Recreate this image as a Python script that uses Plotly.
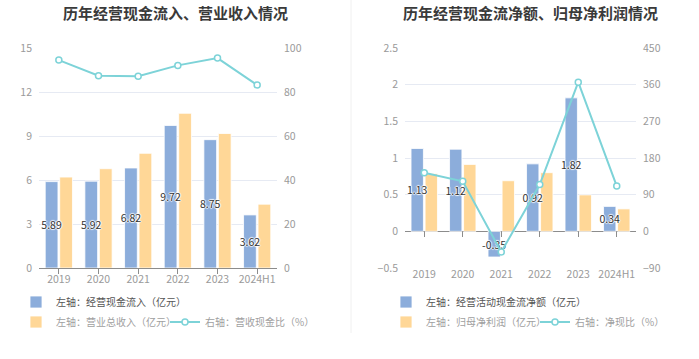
import plotly.graph_objects as go

# ---------------- data ----------------
years = ["2019", "2020", "2021", "2022", "2023", "2024H1"]
cash_inflow = [5.89, 5.92, 6.82, 9.72, 8.75, 3.62]          # 经营现金流入（亿元）
revenue = [6.20, 6.77, 7.82, 10.55, 9.17, 4.35]              # 营业总收入（亿元）
cash_rev_ratio = [94.5, 87.4, 87.2, 92.1, 95.4, 83.2]        # 营收现金比（%）

op_cf_net = [1.13, 1.12, -0.35, 0.92, 1.82, 0.34]            # 经营活动现金流净额（亿元）
net_profit = [0.786, 0.913, 0.69, 0.80, 0.497, 0.306]        # 归母净利润（亿元）
net_cash_ratio = [143.8, 122.7, -50.7, 115.0, 366.0, 111.0]  # 净现比（%）

left_title = "历年经营现金流入、营业收入情况"
right_title = "历年经营现金流净额、归母净利润情况"

# ---------------- style ----------------
W, H = 699, 359
FONT = "Noto Sans CJK SC"
BLUE = "#8CADDB"
YELLOW = "#FFD797"
TEAL = "#7DD3D8"
GRID = "#E6EAF3"
TICK = "#9A9A9A"
AXIS = "#8C8C8C"


def px(x):
    return x / W


def py(y):
    return 1 - y / H


ydom = [py(268), py(48)]
right_range = [-0.5, 2.5]
zero_pos = ydom[0] + (ydom[1] - ydom[0]) * (0 - right_range[0]) / (right_range[1] - right_range[0])

fig = go.Figure()

label_font = dict(family=FONT, size=10.5, color="#333",
                  shadow="1px 0 1px #fff, -1px 0 1px #fff, 0 1px 1px #fff, 0 -1px 1px #fff")
bar_line = dict(color="#ffffff", width=0.8)


def add_panel(xa, ya, ya2, vals_a, vals_b, ratio, names, legends):
    # blue bars
    fig.add_trace(go.Bar(x=years, y=vals_a, name=names[0], offsetgroup="a",
                         marker=dict(color=BLUE, line=bar_line),
                         xaxis=xa, yaxis=ya, legend=legends[0], hoverinfo="skip"))
    # yellow bars
    fig.add_trace(go.Bar(x=years, y=vals_b, name=names[1], offsetgroup="b",
                         marker=dict(color=YELLOW, line=bar_line),
                         xaxis=xa, yaxis=ya, legend=legends[1], hoverinfo="skip"))
    # value labels of the blue bars, drawn on top of both bar series
    fig.add_trace(go.Bar(x=years, y=vals_a, offsetgroup="a", showlegend=False,
                         marker=dict(color="rgba(0,0,0,0)", line=dict(width=0)),
                         text=[f"{v:.2f}" for v in vals_a], textposition="inside",
                         insidetextanchor="middle", textangle=0, constraintext="none",
                         textfont=label_font, cliponaxis=False,
                         xaxis=xa, yaxis=ya, hoverinfo="skip"))
    # ratio line
    fig.add_trace(go.Scatter(x=years, y=ratio, name=names[2], mode="lines+markers",
                             line=dict(color=TEAL, width=2),
                             marker=dict(symbol="circle", size=6, color="#ffffff",
                                         line=dict(color=TEAL, width=1.5)),
                             xaxis=xa, yaxis=ya2, legend=legends[1], hoverinfo="skip",
                             cliponaxis=False))


add_panel("x", "y", "y2", cash_inflow, revenue, cash_rev_ratio,
          ["左轴：经营现金流入（亿元）", "左轴：营业总收入（亿元）", "右轴：营收现金比（%）"],
          ["legend", "legend2"])
add_panel("x3", "y3", "y4", op_cf_net, net_profit, net_cash_ratio,
          ["左轴：经营活动现金流净额（亿元）", "左轴：归母净利润（亿元）", "右轴：净现比（%）"],
          ["legend3", "legend4"])

# empty trace so that the zero-line tick axis of the right panel gets drawn
fig.add_trace(go.Scatter(x=[], y=[], xaxis="x5", yaxis="y3", showlegend=False,
                         hoverinfo="skip"))

tickfont = dict(family=FONT, size=10.5, color=TICK)

common_x = dict(type="category", tickfont=tickfont, showgrid=False, zeroline=False,
                automargin=False, fixedrange=True, tickangle=0)
common_y = dict(tickfont=tickfont, automargin=False, fixedrange=True)

legend_common = dict(orientation="h", xanchor="left", yanchor="middle",
                     bgcolor="rgba(0,0,0,0)", borderwidth=0,
                     itemclick=False, itemdoubleclick=False,
                     tracegroupgap=0, itemwidth=30)
row2 = dict(entrywidth=104, entrywidthmode="pixels")

fig.update_layout(
    width=W, height=H,
    margin=dict(l=0, r=0, t=0, b=0, pad=0),
    paper_bgcolor="#ffffff", plot_bgcolor="#ffffff",
    font=dict(family=FONT, color="#333"),
    barmode="group", bargap=0.27, bargroupgap=0.12,
    showlegend=True,
    xaxis=dict(domain=[px(39), px(277)], anchor="y", showline=True, linecolor=AXIS,
               linewidth=1, ticks="outside", ticklen=5, tickcolor=AXIS,
               ticklabelstandoff=-4, **common_x),
    yaxis=dict(domain=ydom, range=[0, 15], dtick=3, showgrid=True, gridcolor=GRID,
               gridwidth=1, zeroline=False, showline=False, ticks="", anchor="x",
               ticklabelstandoff=6, **common_y),
    yaxis2=dict(overlaying="y", side="right", anchor="x", range=[0, 100], dtick=20,
                showgrid=False, zeroline=False, showline=False, ticks="",
                ticklabelstandoff=6, **common_y),
    xaxis3=dict(domain=[px(405), px(636)], anchor="y3", showline=False, ticks="",
                ticklabelstandoff=-2, **common_x),
    # tick marks hanging below the zero line of the right panel
    xaxis5=dict(overlaying="x3", anchor="free", position=zero_pos, side="bottom",
                type="linear", range=[-0.5, len(years) - 0.5],
                tickmode="array", tickvals=list(range(len(years))),
                showticklabels=False, ticks="outside", ticklen=5, tickcolor=AXIS,
                showline=False, showgrid=False, zeroline=False, automargin=False,
                fixedrange=True),
    yaxis3=dict(domain=ydom, range=right_range, dtick=0.5, showgrid=True, gridcolor=GRID,
                gridwidth=1, zeroline=True, zerolinecolor=AXIS, zerolinewidth=1,
                showline=False, ticks="", anchor="x3", ticklabelstandoff=6, **common_y),
    yaxis4=dict(overlaying="y3", side="right", anchor="x3", range=[-90, 450], dtick=90,
                showgrid=False, zeroline=False, showline=False, ticks="",
                ticklabelstandoff=6, **common_y),
    legend=dict(x=px(16), y=py(302), font=dict(family=FONT, size=10, color="#555"),
                **legend_common),
    legend2=dict(x=px(16), y=py(322), font=dict(family=FONT, size=10, color="#a0a0a0"),
                 **legend_common, **row2),
    legend3=dict(x=px(386), y=py(302), font=dict(family=FONT, size=10, color="#555"),
                 **legend_common),
    legend4=dict(x=px(386), y=py(322), font=dict(family=FONT, size=10, color="#a0a0a0"),
                 **legend_common, **row2),
    annotations=[
        dict(text=f"<b>{left_title}</b>", x=px(175), y=py(12), xref="paper", yref="paper",
             xanchor="center", yanchor="middle", showarrow=False,
             font=dict(family=FONT, size=15, color="#3a3a3a")),
        dict(text=f"<b>{right_title}</b>", x=px(530), y=py(12), xref="paper", yref="paper",
             xanchor="center", yanchor="middle", showarrow=False,
             font=dict(family=FONT, size=15, color="#3a3a3a")),
    ],
    shapes=[
        dict(type="line", xref="paper", yref="paper", x0=px(351), x1=px(351),
             y0=py(333), y1=1, line=dict(color="#F0F0F0", width=1)),
    ],
)

fig.write_html("out.html", config={"displayModeBar": False},
               post_script="document.body.style.margin='0';")
